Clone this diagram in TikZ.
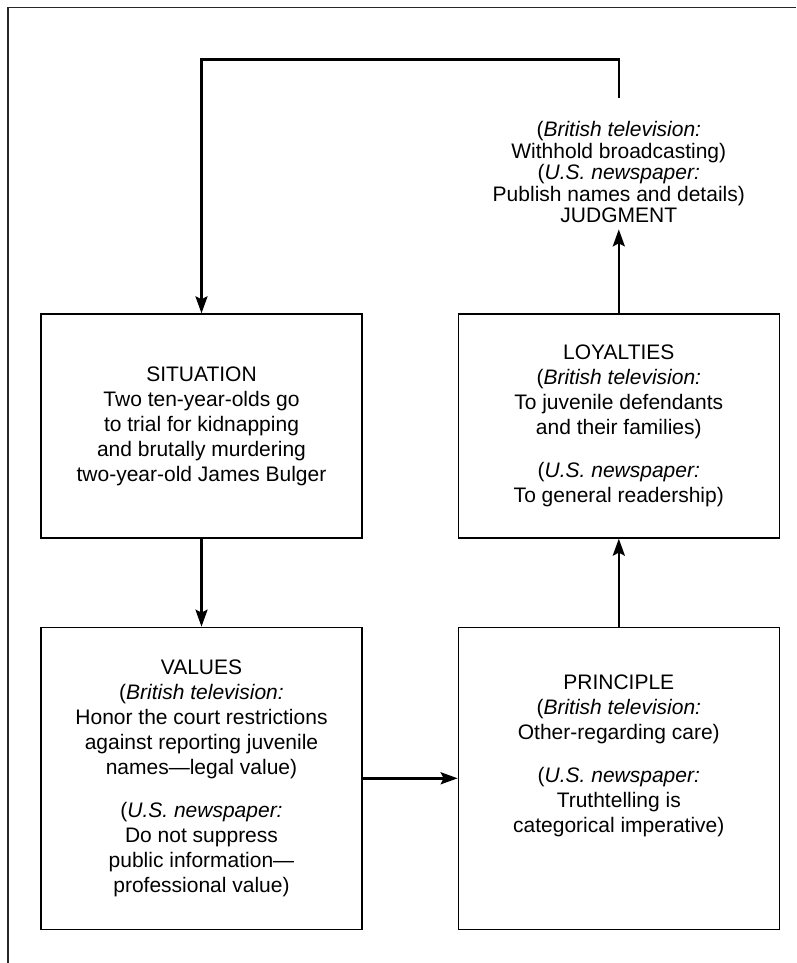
\documentclass[tikz,border=0pt]{standalone}
\usepackage{fontspec}
\setmainfont{Liberation Sans}
\usepackage{tikz}
\usetikzlibrary{arrows.meta, positioning}
\newcommand{\diagfont}{\fontsize{21}{25}\selectfont}
\newcommand{\judgefont}{\fontsize{21}{21.5}\selectfont}
\tikzset{
    pageframe/.style={line width=1.5pt, draw=black!85},
    box/.style={rectangle, draw=black, line width=1.3pt, minimum width=321pt, minimum height=224pt, inner sep=0pt, text centered, align=center, font=\diagfont},
    tallbox/.style={box, minimum height=302pt},
    verdict/.style={inner sep=6pt, text centered, align=center, font=\judgefont},
    arrow/.style={line width=2.6pt, -{Stealth[length=17pt, width=12pt, inset=3pt]}}
}
\begin{document}
\begin{tikzpicture}[
        node distance=88pt and 95pt % vertical and horizontal gaps between the boxes
    ]
        \useasboundingbox (0,0) rectangle (796pt,963pt);
        % Frame
        \draw[pageframe] (8pt,0pt) -- (8pt,955.5pt) -- (796pt,955.5pt);

        % Nodes
        \node[box] (situation) at (201.5pt,537pt) {SITUATION\\Two ten-year-olds go\\to trial for kidnapping\\and brutally murdering\\two-year-old James Bulger};
        \node[tallbox, below=of situation] (values) {VALUES\\(\textit{British television:}\\Honor the court restrictions\\against reporting juvenile\\names—legal value)\\[18pt](\textit{U.S. newspaper:}\\Do not suppress\\public information—\\professional value)};
        \node[tallbox, right=of values, text depth=50pt] (principle) {PRINCIPLE\\(\textit{British television:}\\Other-regarding care)\\[18pt](\textit{U.S. newspaper:}\\Truthtelling is\\categorical imperative)};
        \node[box, above=of principle] (loyalties) {LOYALTIES\\(\textit{British television:}\\To juvenile defendants\\and their families)\\[18pt](\textit{U.S. newspaper:}\\To general readership)};
        \node[verdict, above=84pt of loyalties] (judgment) {(\textit{British television:}\\Withhold broadcasting)\\(\textit{U.S. newspaper:}\\Publish names and details)\\JUDGMENT};
        \coordinate[above=18pt of judgment] (loopstart);

        % Arrows
        \draw[arrow] (situation) -- (values);
        \draw[arrow] (values) -- (principle);
        \draw[arrow] (principle) -- (loyalties);
        \draw[arrow] (loyalties) -- (judgment);
        \draw[arrow] (loopstart) -- ++(0,38pt) -| (situation);
    \end{tikzpicture}
\end{document}
